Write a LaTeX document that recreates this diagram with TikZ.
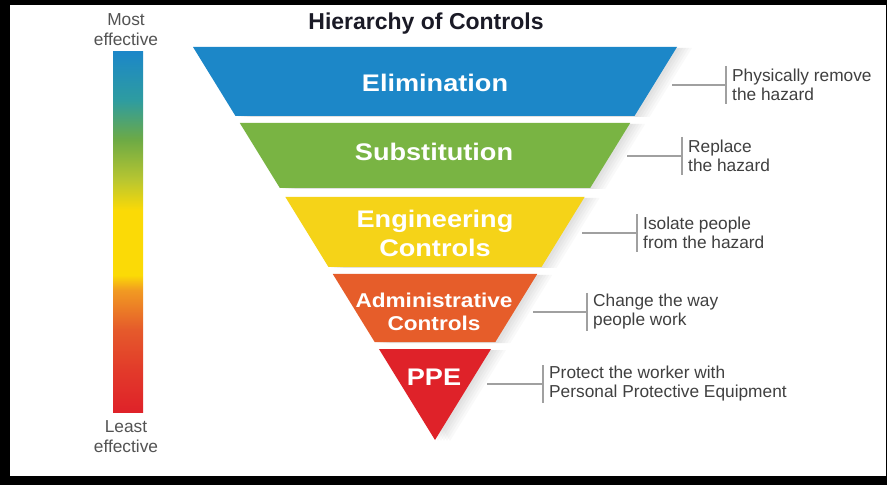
\documentclass[tikz,border=0pt]{standalone}
\usepackage{fontspec}
\setmainfont{Liberation Sans}
\newfontfamily\bandfont{Liberation Sans}[FakeStretch=1.13]
\definecolor{cBlue}{HTML}{1C87C8}
\definecolor{cGreen}{HTML}{79B443}
\definecolor{cYellow}{HTML}{F5D318}
\definecolor{cOrange}{HTML}{E65D2A}
\definecolor{cRed}{HTML}{DF2229}
\definecolor{gTeal}{HTML}{2E9CA0}
\definecolor{gGreen}{HTML}{6DAA45}
\definecolor{gLime}{HTML}{B9C630}
\definecolor{gYel}{HTML}{FBDA06}
\definecolor{gOra}{HTML}{F19A22}
\definecolor{gRO}{HTML}{E55A2B}
\definecolor{gRO2}{HTML}{E23A2A}
\definecolor{txtgray}{HTML}{404040}
\definecolor{linegray}{HTML}{A0A0A0}
\definecolor{titlecol}{HTML}{1A1A26}
\pgfdeclareverticalshading{effbar}{100bp}{color(0bp)=(cRed); color(25bp)=(cRed); color(30.8bp)=(gRO2); color(36.4bp)=(gRO); color(41.9bp)=(gOra); color(44bp)=(gYel); color(53bp)=(gYel); color(57.2bp)=(gLime); color(62.8bp)=(gGreen); color(68.3bp)=(gTeal); color(75bp)=(cBlue); color(100bp)=(cBlue)}
\newcommand\drawband[3]{%
  \pgfmathsetmacro\ta{0.615776*(440-#1)}%
  \pgfmathsetmacro\tb{0.615776*(440-#2)}%
  \foreach \o in {3,6,9,12,15}{%
    \fill[black,opacity=0.025] ({435-\ta+\o},{#1+1}) -- ({435+\ta+\o},{#1+1}) -- ({435+\tb+\o},{#2+1}) -- ({435-\tb+\o},{#2+1}) -- cycle;}
  \fill[#3] ({435-\ta},#1) -- ({435+\ta},#1) -- ({435+\tb},#2) -- ({435-\tb},#2) -- cycle;}
\tikzset{
  bandtxt/.style={text=white,align=center,font=\bandfont\bfseries\fontsize{24bp}{29bp}\selectfont,inner sep=0pt},
  bandsmall/.style={bandtxt,font=\bandfont\bfseries\fontsize{20bp}{23bp}\selectfont},
  desc/.style={anchor=west,align=left,text=txtgray,inner xsep=6bp,inner ysep=0pt,font=\fontsize{17.3bp}{19bp}\selectfont},
  conn/.style={draw=linegray,line width=1.1bp},
  vbar/.style={draw=linegray,line width=1.4bp},
  sidetxt/.style={align=center,text=txtgray!90!white,font=\fontsize{17.3bp}{20bp}\selectfont,inner sep=0pt},
  titletxt/.style={text=titlecol,font=\bfseries\fontsize{23bp}{26bp}\selectfont,inner sep=0pt}
}
\begin{document}
\begin{tikzpicture}[x=1bp,y=-1bp]
\useasboundingbox (0,0) rectangle (887,485);
% frame
\fill[black] (0,0) rectangle (887,485);
\fill[white] (10,5) rectangle (885.5,476);
% title
\node[titletxt] (title) at (426,24) {Hierarchy of Controls};
% effectiveness bar
\shade[shading=effbar] (113,52) rectangle (143,412);
\node[sidetxt] (most) at (126,30) {Most\\effective};
\node[sidetxt] (least) at (126,437) {Least\\effective};
% bands
\drawband{47}{116}{cBlue}
\drawband{123}{188}{cGreen}
\drawband{197}{267}{cYellow}
\drawband{274}{342}{cOrange}
\drawband{349}{440}{cRed}
\node[bandtxt] (elim) at (435,83) {Elimination};
\node[bandtxt] (subs) at (434,152) {Substitution};
\node[bandtxt] (eng) at (435,233) {Engineering\\Controls};
\node[bandsmall] (adm) at (434,312) {Administrative\\Controls};
\node[bandtxt] (ppe) at (434,377) {PPE};
% descriptions
\node[desc] (d1) at (726,85) {Physically remove\\the hazard};
\node[desc] (d2) at (682,156) {Replace\\the hazard};
\node[desc] (d3) at (637,233) {Isolate people\\from the hazard};
\node[desc] (d4) at (587,312) {Change the way\\people work};
\node[desc] (d5) at (543,384) {Protect the worker with\\Personal Protective Equipment};
\foreach \d in {d1,d2,d3,d4,d5}{\draw[vbar] ([yshift=19bp]\d.west) -- ([yshift=-19bp]\d.west);}
\coordinate (c1) at (672,85);
\coordinate (c2) at (627,156);
\coordinate (c3) at (582,233);
\coordinate (c4) at (533,312);
\coordinate (c5) at (487,384);
\draw[conn] (c1) -- (d1.west);
\draw[conn] (c2) -- (d2.west);
\draw[conn] (c3) -- (d3.west);
\draw[conn] (c4) -- (d4.west);
\draw[conn] (c5) -- (d5.west);
\end{tikzpicture}
\end{document}
